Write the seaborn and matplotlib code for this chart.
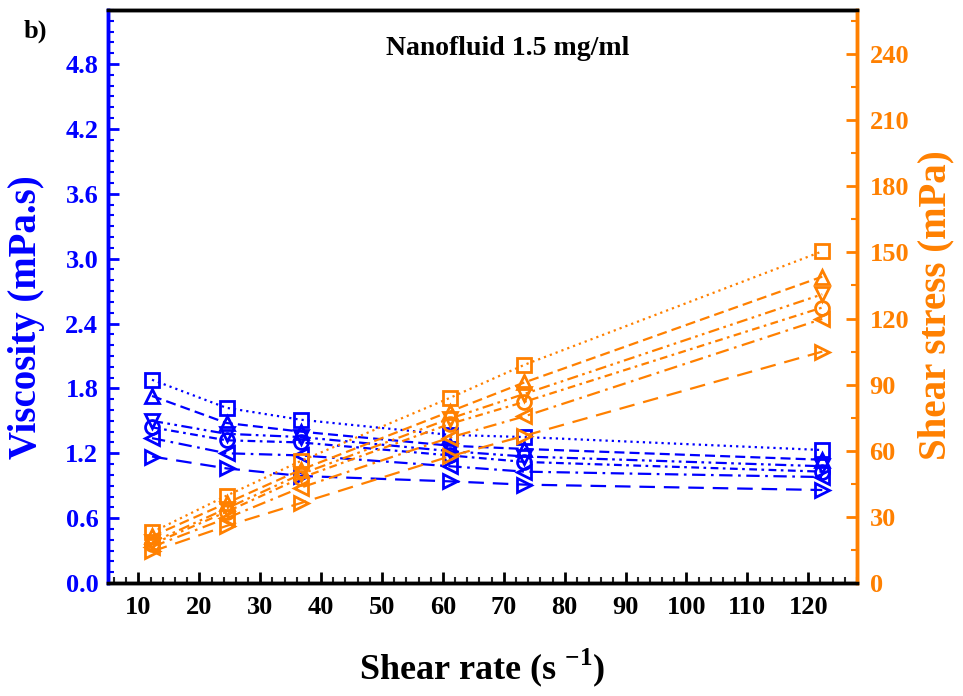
import numpy as np
import pandas as pd
import seaborn as sns
from matplotlib import pyplot as plt
from matplotlib.ticker import MultipleLocator

# shear rate (s^-1)
shear_rate = [12.23, 24.46, 36.69, 61.15, 73.38, 122.3]

# viscosity (mPa.s), one list per sample
visc_sq = [1.88, 1.62, 1.51, 1.37, 1.35, 1.23]
visc_up = [1.73, 1.48, 1.40, 1.27, 1.24, 1.14]
visc_dn = [1.50, 1.38, 1.35, 1.22, 1.17, 1.08]
visc_ci = [1.44, 1.32, 1.30, 1.18, 1.12, 1.03]
visc_lt = [1.34, 1.20, 1.18, 1.08, 1.03, 0.98]
visc_rt = [1.17, 1.06, 0.99, 0.94, 0.91, 0.86]

# shear stress (mPa)
stress_sq = [23.0, 39.6, 55.4, 84.0, 99.0, 150.5]
stress_up = [21.2, 36.2, 51.4, 77.8, 91.0, 139.0]
stress_dn = [18.4, 33.8, 49.4, 74.6, 85.8, 131.0]
stress_ci = [17.6, 32.3, 47.7, 72.2, 82.2, 125.0]
stress_lt = [16.4, 29.4, 43.3, 66.0, 75.6, 119.8]
stress_rt = [14.3, 25.9, 36.3, 57.5, 66.8, 105.0]

BLUE = '#0000FF'
ORANGE = '#FF8000'

sns.set_style('ticks')
plt.rcParams['font.family'] = ['Liberation Serif', 'DejaVu Serif']
plt.rcParams['font.weight'] = 'bold'
plt.rcParams['text.color'] = 'black'
plt.rcParams['axes.labelcolor'] = 'black'
plt.rcParams['mathtext.fontset'] = 'custom'
plt.rcParams['mathtext.rm'] = 'Liberation Serif:bold'
plt.rcParams['mathtext.bf'] = 'Liberation Serif:bold'

markers = ['s', '^', 'v', 'o', '<', '>']
styles = [(0, (1, 1.8)),
          (0, (4.5, 2.3)),
          (0, (5, 2, 1.2, 2, 1.2, 2)),
          (0, (3.5, 2, 1.2, 2)),
          (0, (6, 2.5, 1.2, 2.5)),
          (0, (7, 4))]
visc = [visc_sq, visc_up, visc_dn, visc_ci, visc_lt, visc_rt]
stress = [stress_sq, stress_up, stress_dn, stress_ci, stress_lt, stress_rt]

fig = plt.figure(figsize=(9.63, 6.96), dpi=100)
ax = fig.add_axes([108/963, 1-583/696, (857-108)/963, (583-10)/696])
ax2 = ax.twinx()

for y, m, ls in zip(visc, markers, styles):
    sns.lineplot(x=shear_rate, y=y, ax=ax, color=BLUE, marker=m, linestyle=ls,
                 markersize=10, markerfacecolor='none', markeredgecolor=BLUE,
                 markeredgewidth=2, linewidth=1.6)
for y, m, ls in zip(stress, markers, styles):
    sns.lineplot(x=shear_rate, y=y, ax=ax2, color=ORANGE, marker=m, linestyle=ls,
                 markersize=10, markerfacecolor='none', markeredgecolor=ORANGE,
                 markeredgewidth=2, linewidth=1.6)

ax.set_xlim(5, 128)
ax.set_ylim(0, 5.3)
ax2.set_ylim(0, 260)

ax.xaxis.set_minor_locator(MultipleLocator(2))
ax.yaxis.set_minor_locator(MultipleLocator(0.1))
ax2.yaxis.set_minor_locator(MultipleLocator(15))
ax.set_xticks(np.arange(10, 121, 10))
ax.set_yticks(np.round(np.arange(0, 4.81, 0.6), 1))
ax.yaxis.set_major_formatter(plt.FormatStrFormatter('%.1f'))
ax2.set_yticks(np.arange(0, 241, 30))

ax.tick_params(axis='x', which='major', direction='in', length=8, width=2, labelsize=19, pad=9,
               colors='black')
ax.tick_params(axis='x', which='minor', direction='in', length=4, width=1.5)
ax.tick_params(axis='y', which='major', direction='in', length=8, width=2, labelsize=19, pad=7,
               colors=BLUE)
ax.tick_params(axis='y', which='minor', direction='in', length=4, width=1.5, colors=BLUE)
ax2.tick_params(axis='y', which='major', direction='in', length=8, width=2, labelsize=19, pad=9,
                colors=ORANGE)
ax2.tick_params(axis='y', which='minor', direction='in', length=4, width=1.5, colors=ORANGE)

for a in (ax, ax2):
    for s in a.spines.values():
        s.set_linewidth(2.5)
        s.set_visible(True)
    a.spines['top'].set_color('black')
    a.spines['bottom'].set_color('black')
    a.spines['left'].set_color(BLUE)
    a.spines['right'].set_color(ORANGE)

for lab in ax.get_xticklabels() + ax.get_yticklabels() + ax2.get_yticklabels():
    lab.set_fontweight('bold')

ax.set_xlabel('Shear rate (s$^{\\ \\mathbf{-1}}$)', fontsize=26, fontweight='bold', labelpad=20,
              color='black')
ax.set_ylabel('Viscosity (mPa.s)', fontsize=28, fontweight='bold', color=BLUE)
ax2.set_ylabel('Shear stress (mPa)', fontsize=28, fontweight='bold', color=ORANGE)
ax.yaxis.set_label_coords(-0.084, 0.464)
ax2.yaxis.set_label_coords(1.081, 0.485)

fig.text(0.024, 0.972, 'b)', fontsize=19, fontweight='bold', va='top', ha='left', color='black')
fig.text(0.527, 0.931, 'Nanofluid 1.5 mg/ml', fontsize=20, fontweight='bold', va='center',
         ha='center', color='black')

fig.savefig('out.png', dpi=100)
